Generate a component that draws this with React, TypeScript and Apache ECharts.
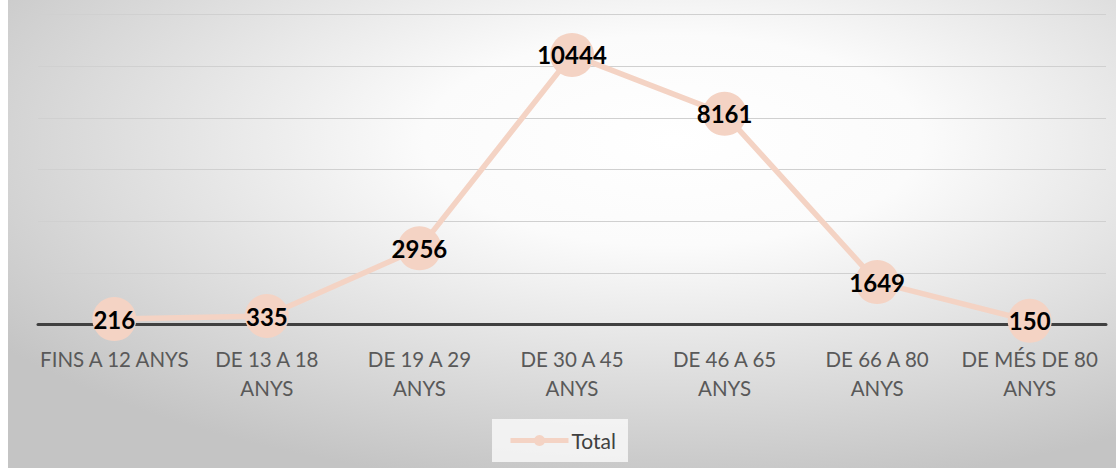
import React, { useEffect, useRef } from "react";
import * as echarts from "echarts";

const categories = [
  "FINS A 12 ANYS",
  "DE 13 A 18 ANYS",
  "DE 19 A 29 ANYS",
  "DE 30 A 45 ANYS",
  "DE 46 A 65 ANYS",
  "DE 66 A 80 ANYS",
  "DE MÉS DE 80 ANYS",
];
const totals = [216, 335, 2956, 10444, 8161, 1649, 150];
const seriesName = "Total";

export default function App() {
  const ref = useRef<HTMLDivElement>(null);
  useEffect(() => {
    if (!ref.current) return;
    const chart = echarts.init(ref.current, undefined, { renderer: "svg" });
    chart.setOption({
      animation: false,
      backgroundColor: {
        type: "radial",
        x: 0.6,
        y: 0.3,
        r: 0.75,
        colorStops: [
          { offset: 0, color: "#ffffff" },
          { offset: 0.3, color: "#fbfbfb" },
          { offset: 1, color: "#c4c4c4" },
        ],
      },
      grid: { left: 30, right: 10, top: 14.7, bottom: 143.3, containLabel: false },
      legend: {
        data: [seriesName],
        bottom: 6,
        left: "center",
        itemWidth: 58,
        itemHeight: 14,
        itemGap: 4,
        backgroundColor: "rgba(248,248,248,0.85)",
        padding: [11, 12, 11, 16],
        lineStyle: { width: 5 },
        textStyle: { color: "#404040", fontSize: 21, fontFamily: "Lato", padding: [0, 0, 0, -2] },
      },
      xAxis: {
        type: "category",
        data: categories,
        axisLine: { lineStyle: { color: "#404040", width: 3 } },
        axisTick: { show: false },
        axisLabel: {
          color: "#595959",
          fontSize: 20.5,
          fontFamily: "Lato",
          interval: 0,
          margin: 20,
          lineHeight: 29,
          width: 152,
          overflow: "break",
          formatter: (v: string) => (v.length > 14 ? v.replace(/ ANYS$/, "\nANYS") : v),
        },
      },
      yAxis: {
        type: "value",
        min: 0,
        max: 12000,
        interval: 2000,
        axisLabel: { show: false },
        axisLine: { show: false },
        axisTick: { show: false },
        splitLine: { lineStyle: { color: "#d0d0d0", width: 1 } },
      },
      series: [
        {
          name: seriesName,
          type: "line",
          data: totals,
          symbol: "circle",
          symbolSize: 44,
          lineStyle: { color: "#f4d3c4", width: 5.5 },
          itemStyle: { color: "#f4d3c4" },
          label: {
            show: true,
            position: "inside",
            color: "#000000",
            fontSize: 24,
            fontWeight: "bold",
            fontFamily: "Lato",
          },
        },
      ],
    });
    return () => chart.dispose();
  }, []);
  return (
    <div
      ref={ref}
      style={{ position: "absolute", left: 8, top: 0, width: 1108, height: 468 }}
    />
  );
}
